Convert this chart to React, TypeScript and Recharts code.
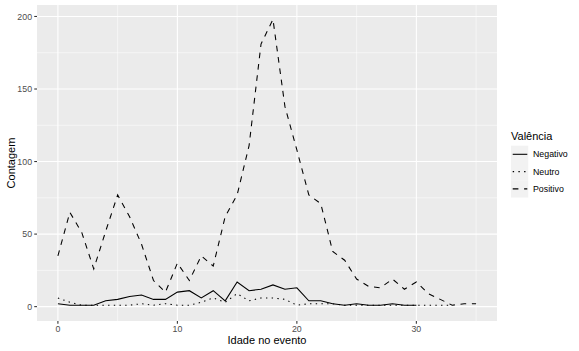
import React from 'react';
import { LineChart, Line, XAxis, YAxis, CartesianGrid, Label } from 'recharts';

const ages = [0, 1, 2, 3, 4, 5, 6, 7, 8, 9, 10, 11, 12, 13, 14, 15, 16, 17, 18, 19, 20, 21, 22, 23, 24, 25, 26, 27, 28, 29, 30, 31, 32, 33, 34, 35];
const positivo = [35, 65, 51, 26, 52, 77, 62, 43, 18, 10, 30, 18, 35, 28, 62, 77, 111, 181, 198, 138, 108, 77, 71, 38, 32, 19, 14, 13, 19, 12, 17, 9, 5, 1, 2, 2];
const negativo = [2, 1, 1, 1, 4, 5, 7, 8, 5, 5, 10, 11, 6, 11, 4, 17, 11, 12, 15, 12, 13, 4, 4, 2, 1, 2, 1, 1, 2, 1, 1];
const neutro = [6, 3, 1, 1, 1, 1, 1, 2, 1, 2, 1, 1, 3, 6, 3, 9, 4, 6, 6, 5, 1, 2, 2, 2, 1, 1, 1, 1, 1, 1, 1, 1, 1, 1];

const seriesNames = ['Negativo', 'Neutro', 'Positivo'];
const xTicks = [0, 10, 20, 30];
const yTicks = [0, 50, 100, 150, 200];
const xMinor = [5, 15, 25, 35];
const yMinor = [25, 75, 125, 175];

const data = ages.map((age, i) => ({
  age,
  Negativo: i < negativo.length ? negativo[i] : null,
  Neutro: i < neutro.length ? neutro[i] : null,
  Positivo: i < positivo.length ? positivo[i] : null,
}));

const FONT = '"Liberation Sans", Arial, Helvetica, sans-serif';
const LW = 1.07;
const DASHES: Record<string, string | undefined> = {
  Negativo: undefined,
  Neutro: '1.4 4.3',
  Positivo: '5.7 5.7',
};

const tickStyle = { fill: '#4D4D4D', fontSize: 8.8, fontFamily: FONT };

export default function App() {
  return (
    <div style={{ position: 'absolute', left: 0, top: 0, width: 579, height: 351, background: '#fff', fontFamily: FONT }}>
      <LineChart width={579} height={351} data={data} margin={{ top: 5, right: 82, bottom: 0, left: 0 }}>
        <CartesianGrid fill="#EBEBEB" stroke="#FFFFFF" strokeWidth={0.53} horizontalValues={yMinor} verticalValues={xMinor} />
        <CartesianGrid stroke="#FFFFFF" strokeWidth={1.07} horizontalValues={yTicks} verticalValues={xTicks} />
        <XAxis
          dataKey="age"
          type="number"
          domain={[-1.75, 36.75]}
          allowDataOverflow
          ticks={xTicks}
          interval={0}
          tickSize={2.75}
          tickMargin={2.2}
          axisLine={false}
          tickLine={{ stroke: '#333333', strokeWidth: LW }}
          tick={tickStyle}
          height={30}
        >
          <Label
            content={() => (
              <text x={267} y={344} textAnchor="middle" fontSize={11} fill="#000" fontFamily={FONT}>
                Idade no evento
              </text>
            )}
          />
        </XAxis>
        <YAxis
          type="number"
          domain={[-9.9, 207.9]}
          allowDataOverflow
          ticks={yTicks}
          interval={0}
          tickSize={2.75}
          tickMargin={2.2}
          axisLine={false}
          tickLine={{ stroke: '#333333', strokeWidth: LW }}
          tick={tickStyle}
          width={37}
        >
          <Label
            content={() => (
              <text x={15} y={163} transform="rotate(-90 15 163)" textAnchor="middle" fontSize={11} fill="#000" fontFamily={FONT}>
                Contagem
              </text>
            )}
          />
        </YAxis>
        {seriesNames.map((name) => (
          <Line
            key={name}
            type="linear"
            dataKey={name}
            stroke="#000000"
            strokeWidth={LW}
            strokeDasharray={DASHES[name]}
            dot={false}
            activeDot={false}
            isAnimationActive={false}
            connectNulls={false}
          />
        ))}
      </LineChart>
      <svg width={90} height={100} style={{ position: 'absolute', left: 500, top: 120 }}>
        <text x={11} y={19.5} fontSize={11} fill="#000" fontFamily={FONT}>Valência</text>
        {seriesNames.map((name, i) => {
          const cy = 34.3 + i * 17.3;
          return (
            <g key={name}>
              <rect x={11} y={cy - 8.64} width={17.28} height={17.28} fill="#F2F2F2" />
              <line x1={12.7} x2={27.3} y1={cy} y2={cy} stroke="#000" strokeWidth={LW} strokeDasharray={DASHES[name]} />
              <text x={33} y={cy + 3.1} fontSize={8.8} fill="#000" fontFamily={FONT}>{name}</text>
            </g>
          );
        })}
      </svg>
    </div>
  );
}
